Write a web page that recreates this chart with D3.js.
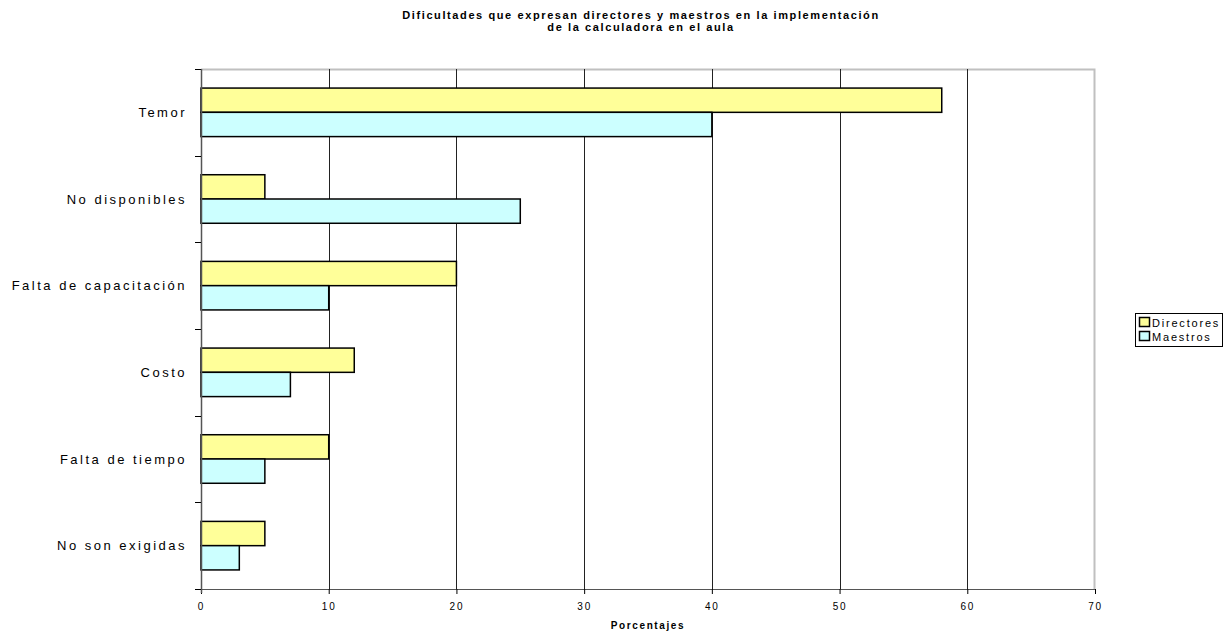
<!DOCTYPE html>
<html>
<head>
<meta charset="utf-8">
<script src="https://cdn.jsdelivr.net/npm/d3@7"></script>
<style>
	body { margin: 0; background: #fff; }
	svg { font-family: 'Liberation Sans', Arial, sans-serif; }
</style>
</head>
<body>
<svg id="chart" width="1225" height="632"></svg>
<script>
const categories = ['Temor', 'No disponibles', 'Falta de capacitación', 'Costo', 'Falta de tiempo', 'No son exigidas'];
const directores = [58, 5, 20, 12, 10, 5];
const maestros = [40, 25, 10, 7, 5, 3];
const seriesNames = ['Directores', 'Maestros'];
const seriesColors = ['#ffff99', '#ccffff'];
const xTicks = [0, 10, 20, 30, 40, 50, 60, 70];

const margin = { top: 69, right: 130, bottom: 43, left: 201 };
const width = 1225 - margin.left - margin.right;
const height = 632 - margin.top - margin.bottom;

const svg = d3.select('#chart');

// title
const title = svg.append('text')
	.attr('x', 641)
	.attr('y', 19)
	.attr('text-anchor', 'middle')
	.style('font-size', '11px')
	.style('font-weight', 'bold')
	.style('letter-spacing', '1.6px');
title.append('tspan').attr('x', 641).text('Dificultades que expresan directores y maestros en la implementación');
title.append('tspan').attr('x', 641).attr('dy', 12).text('de la calculadora en el aula');

const g = svg.append('g')
	.attr('transform', `translate(${ margin.left }, ${ margin.top })`);

const x = d3.scaleLinear().domain([0, 70]).range([0, width]);
const y = d3.scaleBand().domain(categories).range([0, height]).paddingInner(0.44).paddingOuter(0.22);
const ySub = d3.scaleBand().domain(seriesNames).range([0, y.bandwidth()]);

// plot border (top and right)
g.append('path')
	.attr('d', `M0,0.5H${ width - 0.5 }V${ height }`)
	.attr('fill', 'none')
	.attr('stroke', '#c0c0c0')
	.attr('stroke-width', 2);

// gridlines
g.append('g')
	.selectAll('line')
	.data(xTicks.filter(d => d > 0 && d < 70))
	.join('line')
		.attr('x1', d => Math.round(x(d)) + 0.5)
		.attr('x2', d => Math.round(x(d)) + 0.5)
		.attr('y1', 0)
		.attr('y2', height)
		.attr('stroke', '#222');

// bars
const groups = g.append('g')
	.selectAll('g')
	.data(categories)
	.join('g')
		.attr('transform', d => `translate(0, ${ y(d) })`);

groups.selectAll('rect')
	.data((d, i) => [
		{ name: seriesNames[0], value: directores[i], color: seriesColors[0] },
		{ name: seriesNames[1], value: maestros[i], color: seriesColors[1] },
	])
	.join('rect')
		.attr('x', x(0))
		.attr('y', d => ySub(d.name))
		.attr('width', d => x(d.value) - x(0))
		.attr('height', ySub.bandwidth())
		.attr('fill', d => d.color)
		.attr('stroke', '#000')
		.attr('stroke-width', 1.5);

// x axis
const xAxis = g.append('g')
	.attr('transform', `translate(0, ${ height })`)
	.call(d3.axisBottom(x).tickValues(xTicks).tickSize(5).tickSizeOuter(0));
xAxis.select('.domain').attr('stroke', '#555').attr('stroke-width', 1.2);
xAxis.selectAll('.tick line').attr('stroke', '#000');
xAxis.selectAll('.tick text')
	.attr('dy', '1.25em')
	.style('font-size', '10px')
	.style('letter-spacing', '1.8px')
	.style('fill', '#000')
	.style('font-family', "'Liberation Sans', Arial, sans-serif");

svg.append('text')
	.attr('x', margin.left + width / 2)
	.attr('y', 629)
	.attr('text-anchor', 'middle')
	.style('font-size', '10px')
	.style('font-weight', 'bold')
	.style('letter-spacing', '1.6px')
	.text('Porcentajes');

// y axis: category boundaries as ticks
const bounds = categories.map(c => y(c) - y.step() * y.paddingInner() / 2).concat([height]);
const yAxis = g.append('g');
yAxis.append('line')
	.attr('x1', 0.5).attr('x2', 0.5)
	.attr('y1', 0).attr('y2', height + 4)
	.attr('stroke', '#555')
	.attr('stroke-width', 1.5);
yAxis.selectAll('.bt')
	.data(bounds)
	.join('line')
		.attr('class', 'bt')
		.attr('x1', -6).attr('x2', 0)
		.attr('y1', d => Math.round(d) + 0.5).attr('y2', d => Math.round(d) + 0.5)
		.attr('stroke', '#000');
yAxis.selectAll('.cl')
	.data(categories)
	.join('text')
		.attr('class', 'cl')
		.attr('x', -14)
		.attr('y', d => y(d) + y.bandwidth() / 2)
		.attr('dy', '0.35em')
		.attr('text-anchor', 'end')
		.style('font-size', '13px')
		.style('letter-spacing', '2.5px')
		.text(d => d);

// legend
const legend = svg.append('g').attr('transform', 'translate(1135, 313)');
legend.append('rect')
	.attr('x', 0.5).attr('y', 0.5)
	.attr('width', 87).attr('height', 33)
	.attr('fill', '#fff')
	.attr('stroke', '#000');
seriesNames.forEach((name, i) => {
	const row = legend.append('g').attr('transform', `translate(4, ${ 4 + i * 14 })`);
	row.append('rect')
		.attr('x', 0.5).attr('y', 0.5)
		.attr('width', 10).attr('height', 9)
		.attr('fill', seriesColors[i])
		.attr('stroke', '#000')
		.attr('stroke-width', 1.5);
	row.append('text')
		.attr('x', 13)
		.attr('y', 9.5)
		.style('font-size', '11px')
		.style('letter-spacing', '1.8px')
		.text(name);
});
</script>
</body>
</html>
